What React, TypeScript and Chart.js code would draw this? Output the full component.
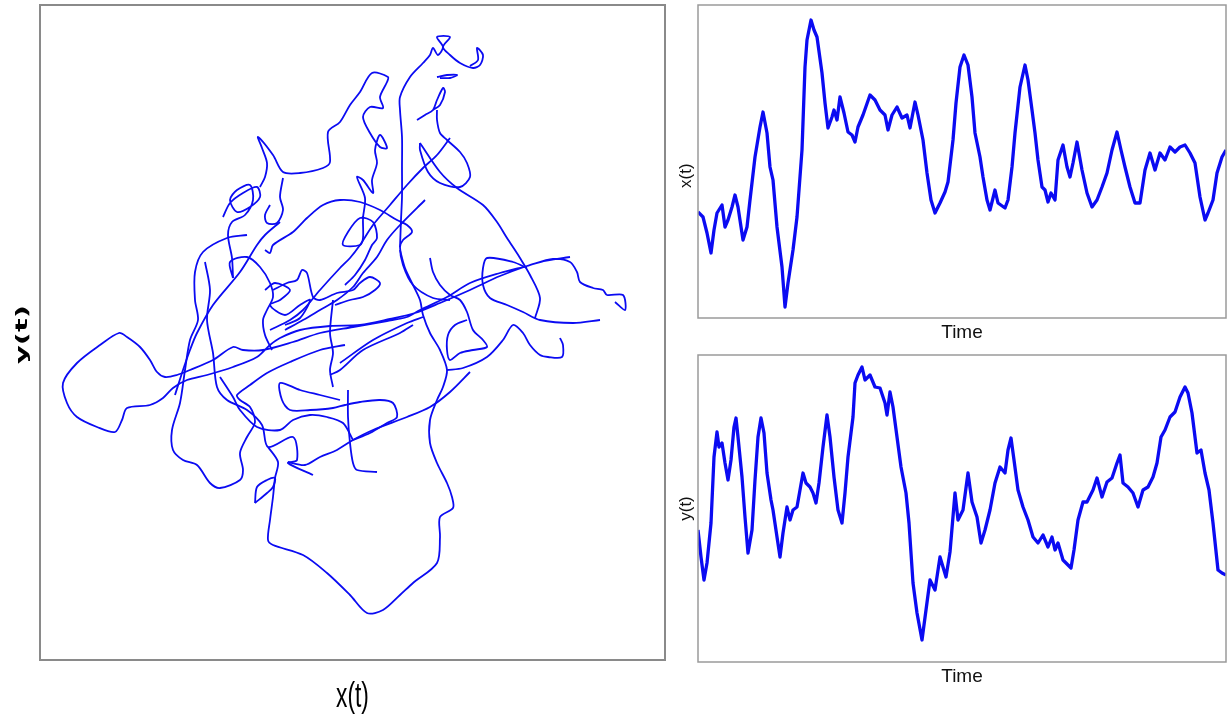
import React, { useEffect, useRef } from 'react';
import { Chart, registerables } from 'chart.js';

Chart.register(...registerables);
Chart.defaults.font.family = '"Liberation Sans", Arial, sans-serif';

// ---------- Right panels: time series (time index, value) ----------
const xTime = [0, 5, 9, 13, 16, 19, 24, 27, 30, 34, 37, 40, 45, 49, 52, 57, 62, 65, 69, 72, 75, 79, 84, 87, 90, 95, 99, 104, 107, 109, 113, 116, 119, 124, 127, 130, 134, 136, 139, 142, 146, 150, 154, 157, 160, 165, 172, 177, 182, 187, 190, 194, 199, 204, 209, 212, 217, 220, 225, 229, 233, 237, 242, 247, 250, 255, 258, 262, 266, 270, 274, 277, 282, 285, 289, 292, 297, 300, 307, 310, 314, 317, 322, 327, 330, 334, 337, 340, 344, 347, 350, 353, 357, 360, 365, 369, 372, 375, 379, 384, 389, 394, 399, 404, 409, 414, 419, 423, 427, 432, 437, 442, 447, 452, 457, 462, 467, 472, 477, 482, 487, 492, 497, 502, 507, 510, 515, 519, 524, 528];
const xValues = [106, 101, 85, 65, 88, 105, 113, 91, 98, 111, 123, 111, 78, 91, 118, 161, 191, 206, 185, 151, 138, 91, 51, 11, 35, 68, 101, 168, 251, 278, 298, 288, 281, 245, 215, 190, 201, 208, 198, 221, 205, 186, 183, 176, 191, 203, 223, 218, 208, 203, 188, 203, 211, 200, 203, 190, 216, 203, 178, 145, 118, 105, 115, 126, 136, 178, 215, 251, 263, 253, 221, 185, 161, 141, 118, 108, 128, 115, 110, 118, 151, 185, 231, 253, 238, 208, 185, 158, 131, 128, 116, 125, 118, 158, 173, 151, 141, 155, 176, 148, 125, 111, 118, 131, 145, 168, 186, 168, 151, 131, 115, 115, 148, 165, 148, 165, 158, 171, 166, 171, 173, 165, 155, 121, 98, 105, 118, 145, 161, 168];

const yTime = [0, 3, 6, 9, 13, 16, 19, 21, 24, 27, 30, 33, 36, 38, 40, 44, 47, 50, 54, 57, 60, 63, 66, 69, 73, 75, 79, 82, 85, 89, 92, 95, 99, 102, 105, 108, 112, 115, 118, 121, 125, 129, 132, 136, 140, 144, 147, 150, 155, 157, 160, 164, 167, 172, 177, 182, 187, 189, 192, 195, 199, 203, 208, 211, 215, 219, 224, 228, 232, 237, 242, 248, 252, 257, 260, 265, 270, 274, 279, 283, 287, 292, 297, 302, 307, 310, 313, 316, 320, 325, 330, 335, 340, 345, 350, 354, 357, 360, 365, 373, 376, 380, 385, 389, 395, 399, 404, 409, 414, 419, 422, 425, 430, 435, 440, 445, 450, 455, 459, 463, 467, 472, 477, 482, 487, 490, 494, 497, 499, 503, 507, 511, 515, 520, 524, 528];
const yValues = [132, 105, 82, 99, 139, 205, 230, 215, 219, 199, 182, 202, 235, 244, 225, 185, 145, 109, 132, 182, 225, 244, 229, 189, 162, 152, 125, 105, 129, 155, 142, 152, 155, 172, 189, 179, 175, 169, 159, 179, 215, 247, 225, 185, 152, 139, 169, 205, 245, 279, 287, 295, 282, 287, 275, 274, 259, 247, 270, 255, 225, 195, 169, 139, 79, 49, 22, 52, 82, 72, 105, 85, 110, 169, 142, 152, 189, 160, 145, 119, 132, 152, 179, 195, 189, 212, 224, 202, 172, 155, 142, 125, 119, 127, 115, 125, 112, 119, 102, 94, 112, 142, 160, 160, 172, 184, 165, 180, 184, 199, 207, 179, 175, 169, 155, 172, 175, 185, 199, 225, 232, 245, 250, 265, 275, 269, 249, 225, 209, 212, 189, 172, 139, 92, 89, 87];

// ---------- Left panel: trajectory (x(t), y(t)) traced as pieces ----------
const pathWestLoop = [[575, 358], [585, 350], [583, 365], [567, 365], [563, 370], [553, 372], [540, 378], [537, 388], [530, 398], [513, 401], [487, 394], [460, 387], [430, 377], [407, 363], [380, 350], [367, 343], [347, 339], [313, 333], [280, 327], [253, 318], [223, 310], [203, 310], [193, 313], [173, 300], [150, 290], [137, 285], [125, 283], [117, 288], [110, 300], [100, 313], [87, 323], [79, 327], [60, 315], [37, 297], [23, 277], [27, 257], [37, 243], [57, 233], [75, 228], [82, 240], [87, 252], [110, 255], [123, 262], [133, 272], [147, 280], [167, 285], [193, 293], [217, 303], [230, 315], [240, 322], [260, 330], [290, 334], [320, 335], [350, 341], [375, 347], [400, 357], [430, 370], [460, 384], [500, 398], [530, 403]];
const pathLeftBlob = [[207, 425], [187, 422], [163, 408], [155, 388], [155, 360], [158, 340], [150, 320], [145, 290], [140, 257], [132, 230], [133, 210], [143, 200], [157, 195], [170, 177], [180, 172], [200, 180], [203, 190], [200, 207], [207, 223], [215, 238], [210, 253], [200, 260], [197, 265], [210, 275], [227, 287], [250, 298], [280, 310], [305, 315]];
const pathLeftInner = [[165, 398], [170, 370], [167, 340], [173, 307], [177, 273], [187, 260], [207, 250], [222, 235], [228, 213], [253, 223], [257, 200], [248, 197], [273, 185]];
const pathSouthBlob = [[228, 213], [238, 198], [235, 182], [233, 163], [230, 140], [228, 120], [233, 115], [263, 105], [287, 87], [310, 65], [327, 47], [343, 50], [360, 65], [373, 77], [397, 97], [400, 123], [400, 143], [413, 152], [412, 163], [407, 177], [397, 197], [390, 217], [390, 240], [397, 260], [403, 273], [407, 290], [400, 310], [390, 327], [383, 345], [380, 360], [373, 375], [365, 392], [360, 410]];
const pathSmallLoop = [[215, 157], [217, 173], [227, 180], [235, 182], [233, 173], [227, 167], [215, 157]];
const pathSpike = [[220, 473], [225, 483], [227, 497], [222, 512], [218, 523], [233, 505], [243, 488], [260, 487], [283, 492], [290, 498], [288, 528], [300, 538], [310, 555], [320, 568], [332, 587], [348, 583], [347, 578], [340, 563], [343, 552], [330, 553], [323, 543], [330, 527], [340, 513], [347, 512], [340, 525], [335, 510], [337, 497], [332, 480], [333, 467], [323, 480], [317, 483], [325, 462], [323, 442], [323, 422], [320, 415], [303, 415], [308, 428], [320, 442], [333, 438], [337, 422], [332, 415], [325, 400], [315, 385], [305, 375]];
const pathSpikeLoop = [[243, 482], [240, 463], [243, 450], [237, 437], [227, 437], [225, 445], [230, 455]];
const pathKnot = [[183, 443], [190, 457], [203, 467], [217, 473], [220, 463], [210, 453], [197, 448], [190, 460], [197, 470], [210, 475], [213, 460], [205, 445], [192, 438], [188, 425], [192, 402], [193, 382]];
const pathArch = [[225, 410], [230, 407], [233, 415], [253, 428], [267, 442], [283, 455], [300, 460], [320, 458], [340, 450], [357, 440], [367, 435], [372, 428], [363, 420], [360, 413], [363, 395], [373, 375], [393, 362], [410, 360]];
const pathCrown = [[360, 413], [361, 440], [362, 463], [362, 493], [362, 523], [360, 550], [360, 563], [370, 583], [383, 597], [390, 605], [393, 612], [398, 605], [403, 613], [397, 623], [410, 623], [403, 613], [410, 605], [420, 597], [433, 592], [440, 595], [443, 605], [437, 612], [438, 600], [430, 594]];
const pathDash = [[397, 583], [407, 585], [417, 585], [410, 582], [400, 582]];
const pathCrownLoop = [[377, 540], [385, 545], [393, 550], [397, 560], [403, 572], [405, 568], [400, 555], [393, 550]];
const pathNorthLoop = [[397, 550], [397, 540], [400, 527], [407, 520], [420, 508], [427, 497], [430, 483], [420, 473], [400, 477], [388, 488], [380, 510], [380, 517]];
const pathEastDiag = [[380, 517], [400, 488], [417, 472], [443, 455], [457, 438], [467, 422], [480, 402], [490, 385], [500, 362], [495, 342]];
const pathWestDiagA = [[410, 522], [397, 505], [383, 492], [367, 475], [350, 455], [333, 435], [320, 415], [310, 402], [300, 392], [280, 370], [263, 350], [250, 340], [230, 330]];
const pathWestDiagB = [[385, 460], [360, 435], [347, 420], [337, 403], [323, 387], [313, 373], [297, 360], [280, 350], [263, 340], [245, 330]];
const pathCenterHook = [[193, 382], [190, 398], [207, 403], [220, 393], [230, 377], [233, 363], [227, 350], [223, 340], [225, 325], [232, 310]];
const pathCenterSquiggle = [[233, 370], [247, 377], [257, 380], [262, 390], [267, 387], [273, 363], [280, 360], [297, 367], [313, 370], [320, 377], [330, 383], [340, 377], [335, 370], [323, 363], [310, 360], [295, 355]];
const pathBox = [[300, 260], [280, 265], [260, 270], [240, 277], [242, 260], [250, 250], [270, 250], [293, 252], [305, 255], [320, 258], [340, 260], [353, 257], [357, 243], [347, 237], [330, 227], [313, 220]];
const pathStar = [[248, 198], [265, 195], [280, 203], [297, 210], [313, 220], [333, 230], [367, 243], [390, 253], [410, 268], [430, 288]];
const pathStarStem = [[308, 270], [308, 243], [310, 217], [313, 197], [317, 190], [337, 188]];
const pathStarLeft = [[180, 283], [193, 263], [200, 250], [217, 233], [240, 230], [253, 240], [270, 245], [287, 243], [303, 237], [313, 220]];
const pathEastLoop = [[390, 402], [393, 388], [400, 375], [410, 365], [420, 360], [427, 348], [433, 330], [443, 320], [447, 313], [433, 310], [420, 307], [410, 300], [407, 310], [408, 325], [415, 335], [427, 340]];
const pathEastCurve = [[487, 392], [473, 398], [447, 402], [443, 392], [443, 375], [450, 362], [467, 355], [483, 348], [500, 340], [533, 337], [560, 340]];
const pathLeftDiag = [[135, 265], [143, 290], [150, 310], [157, 327], [173, 355], [200, 388], [217, 415], [225, 425], [240, 438]];
const pathHook = [[407, 290], [423, 292], [447, 303], [463, 320], [473, 335], [483, 327], [490, 315], [500, 305], [508, 303], [522, 303], [523, 315], [520, 322]];
const pathMidA = [[290, 285], [300, 290], [323, 310], [360, 327], [373, 335]];
const pathMidB = [[300, 297], [333, 320], [367, 337], [383, 343]];
const pathMidStem = [[293, 360], [290, 327], [293, 307], [290, 290], [293, 273]];
const pathMidKnot = [[225, 370], [235, 377], [250, 370], [240, 360], [230, 355], [245, 345], [260, 355], [270, 360], [260, 342], [245, 335]];

const trajectoryPieces = [
  pathWestLoop, pathLeftBlob, pathLeftInner, pathSouthBlob, pathSmallLoop, pathSpike,
  pathSpikeLoop, pathKnot, pathArch, pathCrown, pathDash, pathCrownLoop, pathNorthLoop,
  pathEastDiag, pathWestDiagA, pathWestDiagB, pathCenterHook, pathCenterSquiggle, pathBox,
  pathStar, pathStarStem, pathStarLeft, pathEastLoop, pathEastCurve, pathLeftDiag, pathHook,
  pathMidA, pathMidB, pathMidStem, pathMidKnot,
];

const BLUE = '#0b0bf2';
const SANS = '"Liberation Sans", Arial, sans-serif';

const framePlugin = (color: string, width: number) => ({
  id: 'frameBox',
  afterDraw(chart: any) {
    const { ctx, chartArea: a } = chart;
    ctx.save();
    ctx.strokeStyle = color;
    ctx.lineWidth = width;
    ctx.strokeRect(a.left, a.top, a.right - a.left, a.bottom - a.top);
    ctx.restore();
  },
});

const stretchedLabels = {
  id: 'stretchedLabels',
  afterDraw(chart: any) {
    const { ctx, chartArea: a } = chart;
    ctx.save();
    ctx.fillStyle = '#000';
    ctx.textAlign = 'center';
    ctx.textBaseline = 'alphabetic';
    ctx.font = '35px ' + SANS;
    ctx.translate((a.left + a.right) / 2, a.bottom + 47);
    ctx.scale(0.65, 1);
    ctx.fillText('x(t)', 0, 0);
    ctx.restore();

    ctx.save();
    ctx.fillStyle = '#000';
    ctx.textAlign = 'center';
    ctx.textBaseline = 'alphabetic';
    ctx.font = 'bold 16px "DejaVu Sans", sans-serif';
    ctx.translate(a.left - 13, (a.top + a.bottom) / 2 + 2);
    ctx.rotate(-Math.PI / 2);
    ctx.scale(1.8, 1);
    ctx.fillText('y(t)', 0, 0);
    ctx.restore();
  },
};

function seriesChart(canvas: HTMLCanvasElement, times: number[], values: number[], yMax: number, yLabel: string) {
  return new Chart(canvas, {
    type: 'scatter',
    data: {
      datasets: [
        {
          data: times.map((t, i) => ({ x: t, y: values[i] })),
          showLine: true,
          borderColor: BLUE,
          borderWidth: 3.3,
          borderJoinStyle: 'round',
          pointRadius: 0,
          tension: 0,
        },
      ],
    },
    options: {
      responsive: false,
      animation: false,
      layout: { padding: { top: 2, right: 2, left: 0, bottom: 0 } },
      plugins: { legend: { display: false }, tooltip: { enabled: false } },
      scales: {
        x: {
          type: 'linear',
          min: 0,
          max: 528,
          ticks: { display: false },
          grid: { display: false, drawTicks: false },
          border: { display: false },
          title: {
            display: true,
            text: 'Time',
            color: '#111',
            font: { size: 19, family: SANS, lineHeight: 1 },
            padding: { top: 5.5, bottom: 1.5 },
          },
        },
        y: {
          type: 'linear',
          min: 0,
          max: yMax,
          ticks: { display: false },
          grid: { display: false, drawTicks: false },
          border: { display: false },
          title: {
            display: true,
            text: yLabel,
            color: '#111',
            font: { size: 17, family: SANS, lineHeight: 1 },
            padding: { top: 7.5, bottom: 3.5 },
          },
        },
      },
    },
    plugins: [framePlugin('#9a9a9a', 1.5)],
  } as any);
}

export default function App() {
  const leftRef = useRef<HTMLCanvasElement>(null);
  const topRef = useRef<HTMLCanvasElement>(null);
  const botRef = useRef<HTMLCanvasElement>(null);

  useEffect(() => {
    const left = new Chart(leftRef.current!, {
      type: 'scatter',
      data: {
        datasets: trajectoryPieces.map((piece) => ({
          data: piece.map(([x, y]) => ({ x, y })),
          showLine: true,
          borderColor: BLUE,
          borderWidth: 1.8,
          borderJoinStyle: 'round',
          pointRadius: 0,
          tension: 0.3,
        })),
      },
      options: {
        responsive: false,
        animation: false,
        layout: { padding: { left: 40, top: 2, right: 2, bottom: 60 } },
        plugins: { legend: { display: false }, tooltip: { enabled: false } },
        scales: {
          x: { type: 'linear', min: 0, max: 625, display: false },
          y: { type: 'linear', min: 0, max: 655, display: false },
        },
      },
      plugins: [framePlugin('#8a8a8a', 2), stretchedLabels],
    } as any);
    const top = seriesChart(topRef.current!, xTime, xValues, 313, 'x(t)      ');
    const bot = seriesChart(botRef.current!, yTime, yValues, 307, 'y(t)');
    return () => {
      left.destroy();
      top.destroy();
      bot.destroy();
    };
  }, []);

  return (
    <div>
      <canvas ref={leftRef} width={667} height={717} style={{ position: 'fixed', left: 0, top: 3, width: 667, height: 717 }} />
      <canvas ref={topRef} width={558} height={341} style={{ position: 'fixed', left: 670, top: 3, width: 558, height: 341 }} />
      <canvas ref={botRef} width={558} height={335} style={{ position: 'fixed', left: 670, top: 353, width: 558, height: 335 }} />
    </div>
  );
}
